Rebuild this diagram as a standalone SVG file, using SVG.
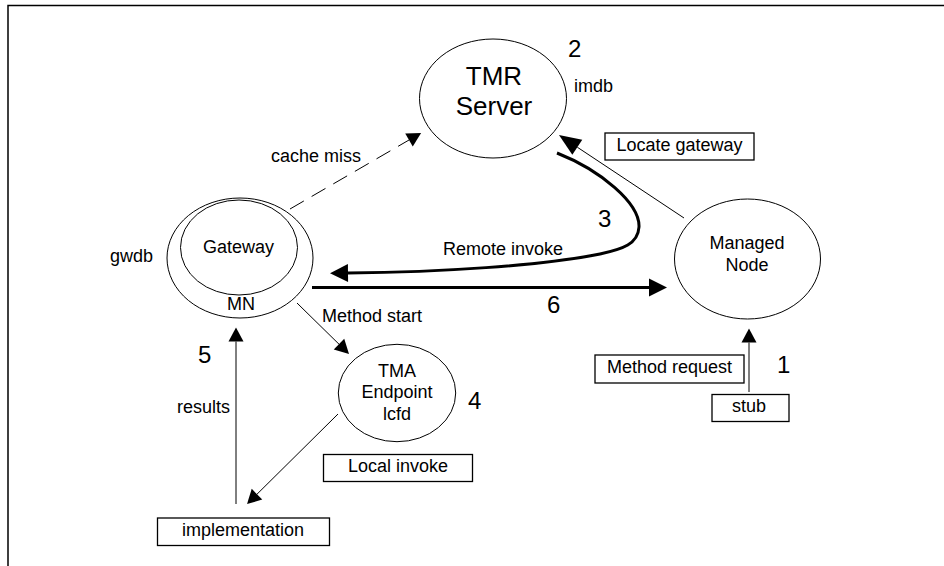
<svg xmlns="http://www.w3.org/2000/svg" width="944" height="566" viewBox="0 0 944 566">
  <style>
    text { font-family: "Liberation Sans", Arial, sans-serif; fill: #000; }
    .lbl { font-size: 18px; }
    .big { font-size: 26px; }
    .num { font-size: 24px; }
    .mid { text-anchor: middle; }
    .node { fill: #fff; stroke: #000; stroke-width: 1; }
    .box { fill: #fff; stroke: #000; stroke-width: 1.3; }
    .thin { fill: none; stroke: #000; stroke-width: 1; }
    .dash { fill: none; stroke: #000; stroke-width: 1; stroke-dasharray: 16 9; }
    .thick { fill: none; stroke: #000; stroke-width: 3; }
  </style>
  <defs>
    <!-- arrowheads: reference point at the base, so the line stops where the head starts -->
    <marker id="head" markerUnits="userSpaceOnUse" markerWidth="14" markerHeight="15" refX="0" refY="7.5" orient="auto" overflow="visible">
      <path d="M0,0 L14,7.5 L0,15 Z" fill="#000"/>
    </marker>
    <marker id="headLarge" markerUnits="userSpaceOnUse" markerWidth="22" markerHeight="18" refX="0" refY="9" orient="auto" overflow="visible">
      <path d="M0,0 L22,9 L0,18 Z" fill="#000"/>
    </marker>
    <marker id="headBold" markerUnits="userSpaceOnUse" markerWidth="18" markerHeight="18" refX="0" refY="9" orient="auto" overflow="visible">
      <path d="M0,0 L18,9 L0,18 Z" fill="#000"/>
    </marker>
  </defs>

  <rect width="944" height="566" fill="#fff"/>

  <!-- page frame -->
  <path d="M8,566 V5.5 H944" fill="none" stroke="#000" stroke-width="1.5"/>

  <g id="connectors">
    <path class="dash" d="M290,209 L409,140" marker-end="url(#head)"/>
    <path class="thin" d="M684,218 L577.3,147.2" marker-end="url(#headLarge)"/>
    <path class="thick" d="M557,153 C600,170 640,203 639,227 C638,244 623,249 600,254 C540,266 440,272 348,273" marker-end="url(#headBold)"/>
    <path class="thick" d="M312,287.5 L649,287.5" marker-end="url(#headBold)"/>
    <path class="thin" d="M749,392 L749,342.5" marker-end="url(#head)"/>
    <path class="thin" d="M297,303 L339,344.2" marker-end="url(#head)"/>
    <path class="thin" d="M338,414 L257,494.2" marker-end="url(#head)"/>
    <path class="thin" d="M236,504 L236,341.5" marker-end="url(#head)"/>
  </g>

  <g id="tmr-server">
    <ellipse class="node" cx="493" cy="98.5" rx="73.5" ry="59.5"/>
    <text class="big mid" x="494" y="85">TMR</text>
    <text class="big mid" x="494" y="115">Server</text>
    <text class="num" x="568" y="57">2</text>
    <text class="lbl" x="574" y="92">imdb</text>
  </g>

  <g id="gateway">
    <ellipse class="node" cx="240" cy="258" rx="73" ry="60"/>
    <ellipse class="node" cx="239" cy="247.5" rx="58.5" ry="47.5"/>
    <text class="lbl mid" x="238.5" y="253">Gateway</text>
    <text class="lbl mid" x="241" y="310">MN</text>
    <text class="lbl" x="110" y="262">gwdb</text>
  </g>

  <g id="managed-node">
    <ellipse class="node" cx="747.5" cy="259" rx="73" ry="60"/>
    <text class="lbl mid" x="747" y="249">Managed</text>
    <text class="lbl mid" x="747" y="271">Node</text>
  </g>

  <g id="tma-endpoint">
    <ellipse class="node" cx="397" cy="393" rx="58.7" ry="48.7"/>
    <text class="lbl mid" x="397" y="377">TMA</text>
    <text class="lbl mid" x="397" y="398">Endpoint</text>
    <text class="lbl mid" x="397" y="420">lcfd</text>
    <text class="num" x="468" y="409">4</text>
  </g>

  <g id="locate-gateway">
    <rect class="box" x="605" y="133" width="149" height="27"/>
    <text class="lbl mid" x="679.5" y="151">Locate gateway</text>
  </g>

  <g id="method-request">
    <rect class="box" x="595" y="355" width="149" height="28"/>
    <text class="lbl mid" x="669.5" y="373">Method request</text>
  </g>

  <g id="stub">
    <rect class="box" x="712" y="394.5" width="77" height="27"/>
    <text class="lbl mid" x="749" y="412">stub</text>
    <text class="num" x="777" y="373">1</text>
  </g>

  <g id="local-invoke">
    <rect class="box" x="323.5" y="454.5" width="149" height="27"/>
    <text class="lbl mid" x="398" y="472">Local invoke</text>
  </g>

  <g id="implementation">
    <rect class="box" x="157.5" y="518" width="172" height="27.5"/>
    <text class="lbl mid" x="243" y="536">implementation</text>
  </g>

  <g id="labels">
    <text class="lbl" x="271" y="162">cache miss</text>
    <text class="lbl" x="443" y="255">Remote invoke</text>
    <text class="num" x="598" y="227">3</text>
    <text class="num" x="547" y="313">6</text>
    <text class="lbl" x="322" y="322">Method start</text>
    <text class="num" x="198" y="363">5</text>
    <text class="lbl" x="177" y="413">results</text>
  </g>
</svg>
